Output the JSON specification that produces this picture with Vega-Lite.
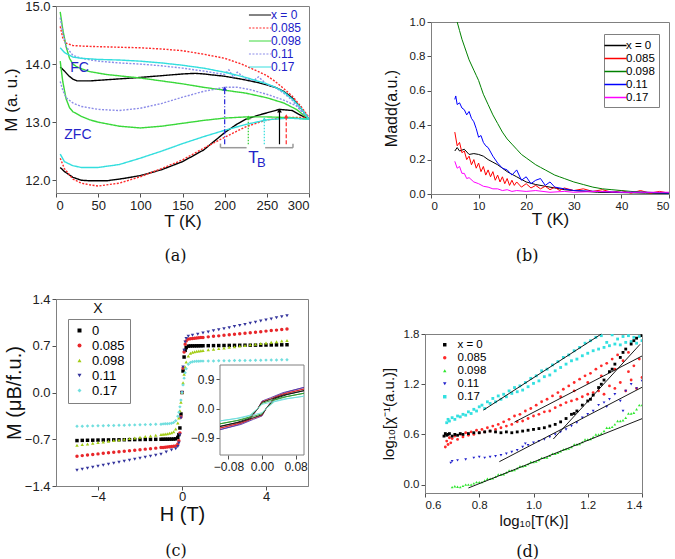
{
"$schema":"https://vega.github.io/schema/vega-lite/v6.json",
"background":"white",
"padding":{"left":2,"top":-1,"right":2,"bottom":0},
"spacing":27,
"resolve":{"scale":{"color":"independent","shape":"independent","strokeDash":"independent"},"legend":{"color":"independent","shape":"independent","strokeDash":"independent"}},
"config":{
 "view":{"stroke":"#808080","strokeWidth":1},
 "axis":{"grid":false,"domainColor":"#808080","tickColor":"#505050","tickSize":4,"labelColor":"#202020","titleColor":"#111111","labelFont":"Liberation Sans","titleFont":"Liberation Sans","titleFontWeight":"normal","labelPadding":2},
 "legend":{"labelFont":"Liberation Sans","titleFont":"Liberation Sans"},
 "title":{"font":"DejaVu Serif","fontSize":16,"fontWeight":"normal","color":"#111111","frame":"group"},
 "text":{"font":"Liberation Sans"}
},
"vconcat":[
{"hconcat":[
 {"width":253,"height":187,
  "title":{"text":"(a)","orient":"bottom","offset":19,"dx":-7},
  "resolve":{"scale":{"color":"independent","strokeDash":"independent"},"legend":{"color":"independent","strokeDash":"independent"}},
  "layer":[
   {"data":{"values":[
{"s":"x = 0","b":"F","t":5,"m":13.95},{"s":"x = 0","b":"F","t":10,"m":13.88},{"s":"x = 0","b":"F","t":15,"m":13.8},{"s":"x = 0","b":"F","t":20,"m":13.74},{"s":"x = 0","b":"F","t":25,"m":13.71},{"s":"x = 0","b":"F","t":40,"m":13.71},{"s":"x = 0","b":"F","t":60,"m":13.73},{"s":"x = 0","b":"F","t":80,"m":13.75},{"s":"x = 0","b":"F","t":100,"m":13.77},{"s":"x = 0","b":"F","t":125,"m":13.8},{"s":"x = 0","b":"F","t":150,"m":13.83},{"s":"x = 0","b":"F","t":165,"m":13.84},{"s":"x = 0","b":"F","t":175,"m":13.83},{"s":"x = 0","b":"F","t":200,"m":13.79},{"s":"x = 0","b":"F","t":220,"m":13.74},{"s":"x = 0","b":"F","t":240,"m":13.68},{"s":"x = 0","b":"F","t":260,"m":13.6},{"s":"x = 0","b":"F","t":270,"m":13.53},{"s":"x = 0","b":"F","t":280,"m":13.42},{"s":"x = 0","b":"F","t":290,"m":13.25},{"s":"x = 0","b":"F","t":300,"m":13.05},
{"s":"x = 0","b":"Z","t":5,"m":12.22},{"s":"x = 0","b":"Z","t":10,"m":12.15},{"s":"x = 0","b":"Z","t":20,"m":12.05},{"s":"x = 0","b":"Z","t":30,"m":12.0},{"s":"x = 0","b":"Z","t":40,"m":11.99},{"s":"x = 0","b":"Z","t":60,"m":11.99},{"s":"x = 0","b":"Z","t":80,"m":12.03},{"s":"x = 0","b":"Z","t":100,"m":12.08},{"s":"x = 0","b":"Z","t":125,"m":12.18},{"s":"x = 0","b":"Z","t":150,"m":12.32},{"s":"x = 0","b":"Z","t":175,"m":12.52},{"s":"x = 0","b":"Z","t":200,"m":12.82},{"s":"x = 0","b":"Z","t":215,"m":12.97},{"s":"x = 0","b":"Z","t":225,"m":13.05},{"s":"x = 0","b":"Z","t":240,"m":13.12},{"s":"x = 0","b":"Z","t":250,"m":13.16},{"s":"x = 0","b":"Z","t":265,"m":13.22},{"s":"x = 0","b":"Z","t":280,"m":13.2},{"s":"x = 0","b":"Z","t":290,"m":13.12},{"s":"x = 0","b":"Z","t":300,"m":13.05},
{"s":"0.085","b":"F","t":5,"m":14.65},{"s":"0.085","b":"F","t":8,"m":14.45},{"s":"0.085","b":"F","t":12,"m":14.36},{"s":"0.085","b":"F","t":20,"m":14.32},{"s":"0.085","b":"F","t":30,"m":14.31},{"s":"0.085","b":"F","t":50,"m":14.3},{"s":"0.085","b":"F","t":75,"m":14.29},{"s":"0.085","b":"F","t":100,"m":14.28},{"s":"0.085","b":"F","t":125,"m":14.26},{"s":"0.085","b":"F","t":150,"m":14.23},{"s":"0.085","b":"F","t":175,"m":14.17},{"s":"0.085","b":"F","t":200,"m":14.1},{"s":"0.085","b":"F","t":220,"m":14.0},{"s":"0.085","b":"F","t":240,"m":13.87},{"s":"0.085","b":"F","t":250,"m":13.8},{"s":"0.085","b":"F","t":260,"m":13.7},{"s":"0.085","b":"F","t":270,"m":13.58},{"s":"0.085","b":"F","t":280,"m":13.45},{"s":"0.085","b":"F","t":290,"m":13.28},{"s":"0.085","b":"F","t":300,"m":13.08},
{"s":"0.085","b":"Z","t":5,"m":12.38},{"s":"0.085","b":"Z","t":10,"m":12.2},{"s":"0.085","b":"Z","t":20,"m":12.02},{"s":"0.085","b":"Z","t":30,"m":11.95},{"s":"0.085","b":"Z","t":40,"m":11.92},{"s":"0.085","b":"Z","t":50,"m":11.9},{"s":"0.085","b":"Z","t":75,"m":11.95},{"s":"0.085","b":"Z","t":100,"m":12.06},{"s":"0.085","b":"Z","t":125,"m":12.2},{"s":"0.085","b":"Z","t":150,"m":12.35},{"s":"0.085","b":"Z","t":175,"m":12.55},{"s":"0.085","b":"Z","t":200,"m":12.74},{"s":"0.085","b":"Z","t":225,"m":12.92},{"s":"0.085","b":"Z","t":250,"m":13.04},{"s":"0.085","b":"Z","t":275,"m":13.08},{"s":"0.085","b":"Z","t":300,"m":13.08},
{"s":"0.098","b":"F","t":5,"m":14.9},{"s":"0.098","b":"F","t":8,"m":14.6},{"s":"0.098","b":"F","t":12,"m":14.3},{"s":"0.098","b":"F","t":16,"m":14.1},{"s":"0.098","b":"F","t":20,"m":14.0},{"s":"0.098","b":"F","t":25,"m":13.95},{"s":"0.098","b":"F","t":30,"m":13.92},{"s":"0.098","b":"F","t":40,"m":13.87},{"s":"0.098","b":"F","t":60,"m":13.82},{"s":"0.098","b":"F","t":80,"m":13.79},{"s":"0.098","b":"F","t":100,"m":13.76},{"s":"0.098","b":"F","t":125,"m":13.71},{"s":"0.098","b":"F","t":150,"m":13.66},{"s":"0.098","b":"F","t":175,"m":13.6},{"s":"0.098","b":"F","t":200,"m":13.55},{"s":"0.098","b":"F","t":225,"m":13.5},{"s":"0.098","b":"F","t":250,"m":13.42},{"s":"0.098","b":"F","t":270,"m":13.33},{"s":"0.098","b":"F","t":285,"m":13.22},{"s":"0.098","b":"F","t":300,"m":13.05},
{"s":"0.098","b":"Z","t":5,"m":14.05},{"s":"0.098","b":"Z","t":8,"m":13.7},{"s":"0.098","b":"Z","t":12,"m":13.4},{"s":"0.098","b":"Z","t":16,"m":13.25},{"s":"0.098","b":"Z","t":20,"m":13.18},{"s":"0.098","b":"Z","t":30,"m":13.1},{"s":"0.098","b":"Z","t":40,"m":13.04},{"s":"0.098","b":"Z","t":50,"m":13.0},{"s":"0.098","b":"Z","t":75,"m":12.93},{"s":"0.098","b":"Z","t":100,"m":12.9},{"s":"0.098","b":"Z","t":125,"m":12.93},{"s":"0.098","b":"Z","t":150,"m":12.98},{"s":"0.098","b":"Z","t":175,"m":13.03},{"s":"0.098","b":"Z","t":200,"m":13.07},{"s":"0.098","b":"Z","t":225,"m":13.09},{"s":"0.098","b":"Z","t":250,"m":13.09},{"s":"0.098","b":"Z","t":275,"m":13.08},{"s":"0.098","b":"Z","t":300,"m":13.05},
{"s":"0.11","b":"F","t":5,"m":14.8},{"s":"0.11","b":"F","t":8,"m":14.55},{"s":"0.11","b":"F","t":12,"m":14.3},{"s":"0.11","b":"F","t":20,"m":14.15},{"s":"0.11","b":"F","t":30,"m":14.1},{"s":"0.11","b":"F","t":50,"m":14.05},{"s":"0.11","b":"F","t":75,"m":14.02},{"s":"0.11","b":"F","t":100,"m":14.0},{"s":"0.11","b":"F","t":125,"m":13.97},{"s":"0.11","b":"F","t":150,"m":13.93},{"s":"0.11","b":"F","t":175,"m":13.88},{"s":"0.11","b":"F","t":200,"m":13.82},{"s":"0.11","b":"F","t":205,"m":13.9},{"s":"0.11","b":"F","t":210,"m":13.78},{"s":"0.11","b":"F","t":215,"m":13.86},{"s":"0.11","b":"F","t":225,"m":13.75},{"s":"0.11","b":"F","t":235,"m":13.72},{"s":"0.11","b":"F","t":240,"m":13.78},{"s":"0.11","b":"F","t":250,"m":13.65},{"s":"0.11","b":"F","t":260,"m":13.6},{"s":"0.11","b":"F","t":270,"m":13.5},{"s":"0.11","b":"F","t":280,"m":13.38},{"s":"0.11","b":"F","t":290,"m":13.2},{"s":"0.11","b":"F","t":300,"m":13.05},
{"s":"0.11","b":"Z","t":5,"m":13.7},{"s":"0.11","b":"Z","t":8,"m":13.55},{"s":"0.11","b":"Z","t":12,"m":13.42},{"s":"0.11","b":"Z","t":20,"m":13.33},{"s":"0.11","b":"Z","t":30,"m":13.27},{"s":"0.11","b":"Z","t":50,"m":13.22},{"s":"0.11","b":"Z","t":75,"m":13.2},{"s":"0.11","b":"Z","t":100,"m":13.24},{"s":"0.11","b":"Z","t":125,"m":13.32},{"s":"0.11","b":"Z","t":150,"m":13.43},{"s":"0.11","b":"Z","t":175,"m":13.53},{"s":"0.11","b":"Z","t":200,"m":13.6},{"s":"0.11","b":"Z","t":215,"m":13.6},{"s":"0.11","b":"Z","t":230,"m":13.56},{"s":"0.11","b":"Z","t":250,"m":13.48},{"s":"0.11","b":"Z","t":270,"m":13.38},{"s":"0.11","b":"Z","t":285,"m":13.28},{"s":"0.11","b":"Z","t":300,"m":13.08},
{"s":"0.17","b":"F","t":5,"m":14.28},{"s":"0.17","b":"F","t":10,"m":14.2},{"s":"0.17","b":"F","t":20,"m":14.12},{"s":"0.17","b":"F","t":30,"m":14.1},{"s":"0.17","b":"F","t":50,"m":14.08},{"s":"0.17","b":"F","t":75,"m":14.07},{"s":"0.17","b":"F","t":100,"m":14.05},{"s":"0.17","b":"F","t":125,"m":14.02},{"s":"0.17","b":"F","t":150,"m":13.98},{"s":"0.17","b":"F","t":175,"m":13.93},{"s":"0.17","b":"F","t":200,"m":13.86},{"s":"0.17","b":"F","t":225,"m":13.77},{"s":"0.17","b":"F","t":250,"m":13.66},{"s":"0.17","b":"F","t":260,"m":13.6},{"s":"0.17","b":"F","t":270,"m":13.52},{"s":"0.17","b":"F","t":280,"m":13.4},{"s":"0.17","b":"F","t":290,"m":13.25},{"s":"0.17","b":"F","t":300,"m":13.05},
{"s":"0.17","b":"Z","t":5,"m":12.45},{"s":"0.17","b":"Z","t":10,"m":12.32},{"s":"0.17","b":"Z","t":20,"m":12.25},{"s":"0.17","b":"Z","t":30,"m":12.22},{"s":"0.17","b":"Z","t":50,"m":12.22},{"s":"0.17","b":"Z","t":75,"m":12.27},{"s":"0.17","b":"Z","t":100,"m":12.38},{"s":"0.17","b":"Z","t":125,"m":12.5},{"s":"0.17","b":"Z","t":150,"m":12.63},{"s":"0.17","b":"Z","t":175,"m":12.75},{"s":"0.17","b":"Z","t":200,"m":12.86},{"s":"0.17","b":"Z","t":225,"m":12.96},{"s":"0.17","b":"Z","t":250,"m":13.04},{"s":"0.17","b":"Z","t":275,"m":13.07},{"s":"0.17","b":"Z","t":300,"m":13.05}
    ]},
    "mark":{"type":"line","strokeWidth":1.4},
    "encoding":{
     "x":{"field":"t","type":"quantitative","scale":{"domain":[0,300],"nice":false},"axis":{"values":[0,50,100,150,200,250,300],"title":"T (K)","labelFontSize":13,"titleFontSize":17,"titlePadding":1}},
     "y":{"field":"m","type":"quantitative","scale":{"domain":[11.78,15],"nice":false,"zero":false},"axis":{"values":[12,12.5,13,13.5,14,14.5,15],"format":".1f","title":"M (a. u.)","labelFontSize":13,"titleFontSize":17,"titlePadding":4}},
     "color":{"field":"s","type":"nominal","scale":{"domain":["x = 0","0.085","0.098","0.11","0.17"],"range":["#000000","#ff2a2a","#3ad83a","#8c8ce8","#33dede"]},"legend":{"title":null,"orient":"none","legendX":197,"legendY":2,"symbolType":"M-1.7,0H1.7","symbolSize":169,"symbolStrokeWidth":1,"labelColor":"#2020c8","labelFontSize":12,"rowPadding":0,"labelOffset":4,"padding":0}},
     "strokeDash":{"field":"s","type":"nominal","scale":{"domain":["x = 0","0.085","0.098","0.11","0.17"],"range":[[1,0],[2,1.5],[1,0],[2,1.5],[1,0]]},"legend":{"title":null,"orient":"none","legendX":197,"legendY":2,"symbolType":"M-1.7,0H1.7","symbolSize":169,"symbolStrokeWidth":1,"labelColor":"#2020c8","labelFontSize":12,"rowPadding":0,"labelOffset":4,"padding":0}},
     "detail":{"field":"b"}
    }},
   {"data":{"values":[{"s":"0.11","t":200,"m":12.62,"m2":13.58},{"s":"0.098","t":228,"m":12.62,"m2":13.08},{"s":"0.17","t":247,"m":12.62,"m2":13.05},{"s":"x = 0","t":265,"m":12.62,"m2":13.2},{"s":"0.085","t":273,"m":12.62,"m2":13.1}]},
    "layer":[
     {"mark":{"type":"rule","strokeWidth":1.2},
      "encoding":{"x":{"field":"t","type":"quantitative"},"y":{"field":"m","type":"quantitative"},"y2":{"field":"m2"},
       "color":{"field":"s","type":"nominal","scale":{"domain":["x = 0","0.085","0.098","0.11","0.17"],"range":["#000000","#ff2a2a","#2ecc2e","#2424d8","#33dede"]},"legend":null},
       "strokeDash":{"field":"s","type":"nominal","scale":{"domain":["x = 0","0.085","0.098","0.11","0.17"],"range":[[1,0],[4,2],[1.5,1.5],[5,2,1,2],[1.5,1.5]]},"legend":null}}},
     {"mark":{"type":"point","shape":"triangle-up","filled":true,"size":22,"opacity":1},
      "encoding":{"x":{"field":"t","type":"quantitative"},"y":{"field":"m2","type":"quantitative"},
       "color":{"field":"s","type":"nominal","scale":{"domain":["x = 0","0.085","0.098","0.11","0.17"],"range":["#000000","#ff2a2a","#2ecc2e","#2424d8","#33dede"]},"legend":null}}}
    ]},
   {"data":{"values":[{"t":195,"t2":226,"m":12.56,"m2":12.56},{"t":195,"t2":195,"m":12.56,"m2":12.63},{"t":248,"t2":281,"m":12.56,"m2":12.56},{"t":281,"t2":281,"m":12.56,"m2":12.63}]},
    "mark":{"type":"rule","color":"#9a9a9a","strokeWidth":1.5},
    "encoding":{"x":{"field":"t","type":"quantitative"},"x2":{"field":"t2"},"y":{"field":"m","type":"quantitative"},"y2":{"field":"m2"}}},
   {"data":{"values":[{"t":28,"m":13.94,"label":"FC"},{"t":26,"m":12.78,"label":"ZFC"}]},
    "mark":{"type":"text","fontSize":14,"color":"#2424c8"},
    "encoding":{"x":{"field":"t","type":"quantitative"},"y":{"field":"m","type":"quantitative"},"text":{"field":"label"}}},
   {"data":{"values":[{"t":234,"m":12.39,"label":"T"}]},
    "mark":{"type":"text","fontSize":17,"color":"#2424c8"},
    "encoding":{"x":{"field":"t","type":"quantitative"},"y":{"field":"m","type":"quantitative"},"text":{"field":"label"}}},
   {"data":{"values":[{"t":243.6,"m":12.3,"label":"B"}]},
    "mark":{"type":"text","fontSize":13,"color":"#2424c8"},
    "encoding":{"x":{"field":"t","type":"quantitative"},"y":{"field":"m","type":"quantitative"},"text":{"field":"label"}}}
  ]},
 {"vconcat":[
  {"width":238,"height":16,"data":{"values":[{"a":1}]},"mark":{"type":"point","opacity":0},"encoding":{},"view":{"stroke":null}},
  {"width":238,"height":172,
   "title":{"text":"(b)","orient":"bottom","offset":20,"dx":-23},
   "data":{"values":[
{"s":"x = 0","t":5,"m":0.25},{"s":"x = 0","t":5.5,"m":0.27},{"s":"x = 0","t":6,"m":0.25},{"s":"x = 0","t":7,"m":0.26},{"s":"x = 0","t":8,"m":0.23},{"s":"x = 0","t":9,"m":0.235},{"s":"x = 0","t":10,"m":0.23},{"s":"x = 0","t":11,"m":0.22},{"s":"x = 0","t":12,"m":0.2},{"s":"x = 0","t":13,"m":0.185},{"s":"x = 0","t":14,"m":0.17},{"s":"x = 0","t":15,"m":0.15},{"s":"x = 0","t":16,"m":0.13},{"s":"x = 0","t":17,"m":0.115},{"s":"x = 0","t":18,"m":0.1},{"s":"x = 0","t":19,"m":0.085},{"s":"x = 0","t":20,"m":0.07},{"s":"x = 0","t":22,"m":0.055},{"s":"x = 0","t":24,"m":0.045},{"s":"x = 0","t":26,"m":0.035},{"s":"x = 0","t":28,"m":0.025},{"s":"x = 0","t":30,"m":0.02},{"s":"x = 0","t":35,"m":0.01},{"s":"x = 0","t":40,"m":0.008},{"s":"x = 0","t":45,"m":0.005},{"s":"x = 0","t":50,"m":0.003},
{"s":"0.085","t":5,"m":0.36},{"s":"0.085","t":5.5,"m":0.28},{"s":"0.085","t":6,"m":0.3},{"s":"0.085","t":6.5,"m":0.24},{"s":"0.085","t":7,"m":0.25},{"s":"0.085","t":7.5,"m":0.2},{"s":"0.085","t":8,"m":0.22},{"s":"0.085","t":8.5,"m":0.17},{"s":"0.085","t":9,"m":0.2},{"s":"0.085","t":9.5,"m":0.15},{"s":"0.085","t":10,"m":0.18},{"s":"0.085","t":10.5,"m":0.13},{"s":"0.085","t":11,"m":0.16},{"s":"0.085","t":11.5,"m":0.11},{"s":"0.085","t":12,"m":0.14},{"s":"0.085","t":12.5,"m":0.1},{"s":"0.085","t":13,"m":0.13},{"s":"0.085","t":13.5,"m":0.08},{"s":"0.085","t":14,"m":0.11},{"s":"0.085","t":14.5,"m":0.07},{"s":"0.085","t":15,"m":0.1},{"s":"0.085","t":15.5,"m":0.06},{"s":"0.085","t":16,"m":0.09},{"s":"0.085","t":16.5,"m":0.05},{"s":"0.085","t":17,"m":0.08},{"s":"0.085","t":17.5,"m":0.05},{"s":"0.085","t":18,"m":0.07},{"s":"0.085","t":19,"m":0.04},{"s":"0.085","t":20,"m":0.06},{"s":"0.085","t":21,"m":0.035},{"s":"0.085","t":22,"m":0.05},{"s":"0.085","t":23,"m":0.03},{"s":"0.085","t":24,"m":0.045},{"s":"0.085","t":25,"m":0.025},{"s":"0.085","t":26,"m":0.04},{"s":"0.085","t":27,"m":0.02},{"s":"0.085","t":28,"m":0.035},{"s":"0.085","t":30,"m":0.02},{"s":"0.085","t":32,"m":0.03},{"s":"0.085","t":34,"m":0.015},{"s":"0.085","t":36,"m":0.025},{"s":"0.085","t":38,"m":0.01},{"s":"0.085","t":40,"m":0.02},{"s":"0.085","t":42,"m":0.005},{"s":"0.085","t":44,"m":0.02},{"s":"0.085","t":46,"m":0.005},{"s":"0.085","t":48,"m":0.015},{"s":"0.085","t":50,"m":0.005},
{"s":"0.098","t":5.5,"m":1.0},{"s":"0.098","t":6,"m":0.95},{"s":"0.098","t":6.5,"m":0.9},{"s":"0.098","t":7,"m":0.86},{"s":"0.098","t":7.5,"m":0.82},{"s":"0.098","t":8,"m":0.78},{"s":"0.098","t":8.5,"m":0.75},{"s":"0.098","t":9,"m":0.72},{"s":"0.098","t":9.5,"m":0.69},{"s":"0.098","t":10,"m":0.66},{"s":"0.098","t":10.5,"m":0.62},{"s":"0.098","t":11,"m":0.58},{"s":"0.098","t":12,"m":0.52},{"s":"0.098","t":13,"m":0.46},{"s":"0.098","t":14,"m":0.41},{"s":"0.098","t":15,"m":0.36},{"s":"0.098","t":16,"m":0.32},{"s":"0.098","t":17,"m":0.29},{"s":"0.098","t":18,"m":0.26},{"s":"0.098","t":19,"m":0.23},{"s":"0.098","t":20,"m":0.21},{"s":"0.098","t":21,"m":0.19},{"s":"0.098","t":22,"m":0.17},{"s":"0.098","t":23,"m":0.155},{"s":"0.098","t":24,"m":0.14},{"s":"0.098","t":25,"m":0.125},{"s":"0.098","t":26,"m":0.11},{"s":"0.098","t":27,"m":0.1},{"s":"0.098","t":28,"m":0.09},{"s":"0.098","t":29,"m":0.08},{"s":"0.098","t":30,"m":0.07},{"s":"0.098","t":32,"m":0.055},{"s":"0.098","t":34,"m":0.04},{"s":"0.098","t":36,"m":0.03},{"s":"0.098","t":38,"m":0.025},{"s":"0.098","t":40,"m":0.02},{"s":"0.098","t":42,"m":0.015},{"s":"0.098","t":45,"m":0.01},{"s":"0.098","t":48,"m":0.008},{"s":"0.098","t":50,"m":0.005},
{"s":"0.11","t":5,"m":0.55},{"s":"0.11","t":5.2,"m":0.57},{"s":"0.11","t":5.5,"m":0.52},{"s":"0.11","t":6,"m":0.53},{"s":"0.11","t":6.5,"m":0.5},{"s":"0.11","t":7,"m":0.49},{"s":"0.11","t":7.5,"m":0.46},{"s":"0.11","t":8,"m":0.48},{"s":"0.11","t":8.5,"m":0.44},{"s":"0.11","t":9,"m":0.42},{"s":"0.11","t":9.5,"m":0.38},{"s":"0.11","t":10,"m":0.33},{"s":"0.11","t":10.5,"m":0.34},{"s":"0.11","t":11,"m":0.3},{"s":"0.11","t":11.5,"m":0.28},{"s":"0.11","t":12,"m":0.27},{"s":"0.11","t":13,"m":0.22},{"s":"0.11","t":14,"m":0.18},{"s":"0.11","t":15,"m":0.15},{"s":"0.11","t":16,"m":0.14},{"s":"0.11","t":17,"m":0.11},{"s":"0.11","t":18,"m":0.14},{"s":"0.11","t":19,"m":0.08},{"s":"0.11","t":20,"m":0.1},{"s":"0.11","t":21,"m":0.06},{"s":"0.11","t":22,"m":0.08},{"s":"0.11","t":23,"m":0.09},{"s":"0.11","t":24,"m":0.05},{"s":"0.11","t":25,"m":0.07},{"s":"0.11","t":26,"m":0.04},{"s":"0.11","t":28,"m":0.03},{"s":"0.11","t":30,"m":0.02},{"s":"0.11","t":35,"m":0.015},{"s":"0.11","t":40,"m":0.01},{"s":"0.11","t":45,"m":0.01},{"s":"0.11","t":50,"m":0.005},
{"s":"0.17","t":5,"m":0.19},{"s":"0.17","t":5.5,"m":0.15},{"s":"0.17","t":6,"m":0.16},{"s":"0.17","t":6.5,"m":0.12},{"s":"0.17","t":7,"m":0.12},{"s":"0.17","t":7.5,"m":0.09},{"s":"0.17","t":8,"m":0.095},{"s":"0.17","t":9,"m":0.07},{"s":"0.17","t":10,"m":0.06},{"s":"0.17","t":11,"m":0.045},{"s":"0.17","t":12,"m":0.04},{"s":"0.17","t":13,"m":0.03},{"s":"0.17","t":14,"m":0.03},{"s":"0.17","t":15,"m":0.02},{"s":"0.17","t":16,"m":0.025},{"s":"0.17","t":17,"m":0.015},{"s":"0.17","t":18,"m":0.02},{"s":"0.17","t":20,"m":0.015},{"s":"0.17","t":22,"m":0.02},{"s":"0.17","t":25,"m":0.01},{"s":"0.17","t":28,"m":0.015},{"s":"0.17","t":30,"m":0.01},{"s":"0.17","t":35,"m":0.015},{"s":"0.17","t":40,"m":0.01},{"s":"0.17","t":45,"m":0.01},{"s":"0.17","t":50,"m":0.01}
   ]},
   "mark":{"type":"line","strokeWidth":1,"clip":true},
   "encoding":{
    "x":{"field":"t","type":"quantitative","scale":{"domain":[0,50],"nice":false},"axis":{"values":[0,10,20,30,40,50],"title":"T (K)","labelFontSize":11.5,"titleFontSize":17,"titlePadding":0}},
    "y":{"field":"m","type":"quantitative","scale":{"domain":[0,1],"nice":false},"axis":{"values":[0,0.2,0.4,0.6,0.8,1.0],"format":".1f","title":"Madd(a.u.)","labelFontSize":11.5,"titleFontSize":16,"titlePadding":10}},
    "color":{"field":"s","type":"nominal","scale":{"domain":["x = 0","0.085","0.098","0.11","0.17"],"range":["#000000","#ff0000","#008000","#0000ff","#ff00ff"]},"legend":{"title":null,"orient":"none","legendX":173,"legendY":28,"symbolType":"M-1.7,0H1.7","symbolSize":169,"symbolStrokeWidth":1.5,"labelFontSize":11.5,"strokeColor":"#808080","padding":4,"rowPadding":0,"labelOffset":3}}
   }}
 ],"spacing":0,"bounds":"flush"}
],"spacing":122,"bounds":"flush","resolve":{"scale":{"color":"independent"},"legend":{"color":"independent","strokeDash":"independent"}}},
{"hconcat":[
 {"width":252,"height":187,
  "title":{"text":"(c)","orient":"bottom","offset":19,"dx":-6},
  "resolve":{"scale":{"x":"independent","y":"independent","color":"independent","shape":"independent"},"axis":{"x":"independent","y":"independent"},"legend":{"color":"independent","shape":"independent"}},
  "layer":[
   {"layer":[
    {"data":{"values":[
{"s":"0","h":0,"m":0},{"s":"0","h":0.05,"m":0.322},{"s":"0","h":0.1,"m":0.531},{"s":"0","h":0.15,"m":0.631},{"s":"0","h":0.2,"m":0.672},{"s":"0","h":0.3,"m":0.694},{"s":"0","h":0.4,"m":0.697},{"s":"0","h":0.5,"m":0.698},{"s":"0","h":0.6,"m":0.698},{"s":"0","h":0.7,"m":0.699},{"s":"0","h":0.8,"m":0.699},{"s":"0","h":0.9,"m":0.7},{"s":"0","h":1,"m":0.7},{"s":"0","h":1.25,"m":0.701},{"s":"0","h":1.5,"m":0.702},{"s":"0","h":1.75,"m":0.703},{"s":"0","h":2,"m":0.704},{"s":"0","h":2.25,"m":0.705},{"s":"0","h":2.5,"m":0.706},{"s":"0","h":2.75,"m":0.707},{"s":"0","h":3,"m":0.708},{"s":"0","h":3.25,"m":0.708},{"s":"0","h":3.5,"m":0.709},{"s":"0","h":3.75,"m":0.71},{"s":"0","h":4,"m":0.711},{"s":"0","h":4.25,"m":0.712},{"s":"0","h":4.5,"m":0.713},{"s":"0","h":4.75,"m":0.714},{"s":"0","h":5,"m":0.715},
{"s":"0","h":-0.05,"m":-0.322},{"s":"0","h":-0.1,"m":-0.531},{"s":"0","h":-0.15,"m":-0.631},{"s":"0","h":-0.2,"m":-0.672},{"s":"0","h":-0.3,"m":-0.694},{"s":"0","h":-0.4,"m":-0.697},{"s":"0","h":-0.5,"m":-0.698},{"s":"0","h":-0.6,"m":-0.698},{"s":"0","h":-0.7,"m":-0.699},{"s":"0","h":-0.8,"m":-0.699},{"s":"0","h":-0.9,"m":-0.7},{"s":"0","h":-1,"m":-0.7},{"s":"0","h":-1.25,"m":-0.701},{"s":"0","h":-1.5,"m":-0.702},{"s":"0","h":-1.75,"m":-0.703},{"s":"0","h":-2,"m":-0.704},{"s":"0","h":-2.25,"m":-0.705},{"s":"0","h":-2.5,"m":-0.706},{"s":"0","h":-2.75,"m":-0.707},{"s":"0","h":-3,"m":-0.708},{"s":"0","h":-3.25,"m":-0.709},{"s":"0","h":-3.5,"m":-0.71},{"s":"0","h":-3.75,"m":-0.711},{"s":"0","h":-4,"m":-0.712},{"s":"0","h":-4.25,"m":-0.714},{"s":"0","h":-4.5,"m":-0.715},{"s":"0","h":-4.75,"m":-0.717},{"s":"0","h":-5,"m":-0.72},
{"s":"0.085","h":0,"m":0},{"s":"0.085","h":0.05,"m":0.367},{"s":"0.085","h":0.1,"m":0.607},{"s":"0.085","h":0.15,"m":0.722},{"s":"0.085","h":0.2,"m":0.771},{"s":"0.085","h":0.3,"m":0.799},{"s":"0.085","h":0.4,"m":0.805},{"s":"0.085","h":0.5,"m":0.809},{"s":"0.085","h":0.6,"m":0.813},{"s":"0.085","h":0.7,"m":0.816},{"s":"0.085","h":0.8,"m":0.819},{"s":"0.085","h":0.9,"m":0.822},{"s":"0.085","h":1,"m":0.825},{"s":"0.085","h":1.25,"m":0.833},{"s":"0.085","h":1.5,"m":0.841},{"s":"0.085","h":1.75,"m":0.848},{"s":"0.085","h":2,"m":0.856},{"s":"0.085","h":2.25,"m":0.864},{"s":"0.085","h":2.5,"m":0.872},{"s":"0.085","h":2.75,"m":0.88},{"s":"0.085","h":3,"m":0.888},{"s":"0.085","h":3.25,"m":0.895},{"s":"0.085","h":3.5,"m":0.903},{"s":"0.085","h":3.75,"m":0.911},{"s":"0.085","h":4,"m":0.919},{"s":"0.085","h":4.25,"m":0.927},{"s":"0.085","h":4.5,"m":0.934},{"s":"0.085","h":4.75,"m":0.942},{"s":"0.085","h":5,"m":0.95},
{"s":"0.085","h":-0.05,"m":-0.367},{"s":"0.085","h":-0.1,"m":-0.607},{"s":"0.085","h":-0.15,"m":-0.722},{"s":"0.085","h":-0.2,"m":-0.771},{"s":"0.085","h":-0.3,"m":-0.799},{"s":"0.085","h":-0.4,"m":-0.805},{"s":"0.085","h":-0.5,"m":-0.809},{"s":"0.085","h":-0.6,"m":-0.813},{"s":"0.085","h":-0.7,"m":-0.816},{"s":"0.085","h":-0.8,"m":-0.819},{"s":"0.085","h":-0.9,"m":-0.822},{"s":"0.085","h":-1,"m":-0.825},{"s":"0.085","h":-1.25,"m":-0.833},{"s":"0.085","h":-1.5,"m":-0.841},{"s":"0.085","h":-1.75,"m":-0.848},{"s":"0.085","h":-2,"m":-0.856},{"s":"0.085","h":-2.25,"m":-0.864},{"s":"0.085","h":-2.5,"m":-0.872},{"s":"0.085","h":-2.75,"m":-0.88},{"s":"0.085","h":-3,"m":-0.888},{"s":"0.085","h":-3.25,"m":-0.895},{"s":"0.085","h":-3.5,"m":-0.903},{"s":"0.085","h":-3.75,"m":-0.911},{"s":"0.085","h":-4,"m":-0.919},{"s":"0.085","h":-4.25,"m":-0.927},{"s":"0.085","h":-4.5,"m":-0.936},{"s":"0.085","h":-4.75,"m":-0.945},{"s":"0.085","h":-5,"m":-0.955},
{"s":"0.098","h":0,"m":0},{"s":"0.098","h":0.05,"m":0.146},{"s":"0.098","h":0.1,"m":0.275},{"s":"0.098","h":0.15,"m":0.38},{"s":"0.098","h":0.2,"m":0.457},{"s":"0.098","h":0.3,"m":0.547},{"s":"0.098","h":0.4,"m":0.586},{"s":"0.098","h":0.5,"m":0.603},{"s":"0.098","h":0.6,"m":0.612},{"s":"0.098","h":0.7,"m":0.618},{"s":"0.098","h":0.8,"m":0.623},{"s":"0.098","h":0.9,"m":0.626},{"s":"0.098","h":1,"m":0.63},{"s":"0.098","h":1.25,"m":0.639},{"s":"0.098","h":1.5,"m":0.649},{"s":"0.098","h":1.75,"m":0.658},{"s":"0.098","h":2,"m":0.668},{"s":"0.098","h":2.25,"m":0.677},{"s":"0.098","h":2.5,"m":0.686},{"s":"0.098","h":2.75,"m":0.696},{"s":"0.098","h":3,"m":0.705},{"s":"0.098","h":3.25,"m":0.714},{"s":"0.098","h":3.5,"m":0.724},{"s":"0.098","h":3.75,"m":0.733},{"s":"0.098","h":4,"m":0.743},{"s":"0.098","h":4.25,"m":0.752},{"s":"0.098","h":4.5,"m":0.761},{"s":"0.098","h":4.75,"m":0.771},{"s":"0.098","h":5,"m":0.78},
{"s":"0.098","h":-0.05,"m":-0.146},{"s":"0.098","h":-0.1,"m":-0.275},{"s":"0.098","h":-0.15,"m":-0.38},{"s":"0.098","h":-0.2,"m":-0.457},{"s":"0.098","h":-0.3,"m":-0.547},{"s":"0.098","h":-0.4,"m":-0.586},{"s":"0.098","h":-0.5,"m":-0.603},{"s":"0.098","h":-0.6,"m":-0.612},{"s":"0.098","h":-0.7,"m":-0.618},{"s":"0.098","h":-0.8,"m":-0.623},{"s":"0.098","h":-0.9,"m":-0.626},{"s":"0.098","h":-1,"m":-0.63},{"s":"0.098","h":-1.25,"m":-0.64},{"s":"0.098","h":-1.5,"m":-0.65},{"s":"0.098","h":-1.75,"m":-0.66},{"s":"0.098","h":-2,"m":-0.67},{"s":"0.098","h":-2.25,"m":-0.68},{"s":"0.098","h":-2.5,"m":-0.69},{"s":"0.098","h":-2.75,"m":-0.7},{"s":"0.098","h":-3,"m":-0.71},{"s":"0.098","h":-3.25,"m":-0.72},{"s":"0.098","h":-3.5,"m":-0.73},{"s":"0.098","h":-3.75,"m":-0.74},{"s":"0.098","h":-4,"m":-0.75},{"s":"0.098","h":-4.25,"m":-0.76},{"s":"0.098","h":-4.5,"m":-0.77},{"s":"0.098","h":-4.75,"m":-0.78},{"s":"0.098","h":-5,"m":-0.79},
{"s":"0.11","h":0,"m":0},{"s":"0.11","h":0.05,"m":0.383},{"s":"0.11","h":0.1,"m":0.634},{"s":"0.11","h":0.15,"m":0.756},{"s":"0.11","h":0.2,"m":0.808},{"s":"0.11","h":0.3,"m":0.841},{"s":"0.11","h":0.5,"m":0.858},{"s":"0.11","h":0.75,"m":0.874},{"s":"0.11","h":1,"m":0.89},{"s":"0.11","h":1.25,"m":0.906},{"s":"0.11","h":1.5,"m":0.923},{"s":"0.11","h":1.75,"m":0.939},{"s":"0.11","h":2,"m":0.955},{"s":"0.11","h":2.25,"m":0.971},{"s":"0.11","h":2.5,"m":0.988},{"s":"0.11","h":2.75,"m":1.004},{"s":"0.11","h":3,"m":1.02},{"s":"0.11","h":3.25,"m":1.036},{"s":"0.11","h":3.5,"m":1.053},{"s":"0.11","h":3.75,"m":1.069},{"s":"0.11","h":4,"m":1.085},{"s":"0.11","h":4.25,"m":1.101},{"s":"0.11","h":4.5,"m":1.118},{"s":"0.11","h":4.75,"m":1.134},{"s":"0.11","h":5,"m":1.15},
{"s":"0.11","h":-0.05,"m":-0.383},{"s":"0.11","h":-0.1,"m":-0.634},{"s":"0.11","h":-0.15,"m":-0.756},{"s":"0.11","h":-0.2,"m":-0.808},{"s":"0.11","h":-0.3,"m":-0.841},{"s":"0.11","h":-0.5,"m":-0.86},{"s":"0.11","h":-0.75,"m":-0.89},{"s":"0.11","h":-1,"m":-0.925},{"s":"0.11","h":-1.25,"m":-0.94},{"s":"0.11","h":-1.5,"m":-0.955},{"s":"0.11","h":-1.75,"m":-0.97},{"s":"0.11","h":-2,"m":-0.985},{"s":"0.11","h":-2.25,"m":-1.0},{"s":"0.11","h":-2.5,"m":-1.015},{"s":"0.11","h":-2.75,"m":-1.03},{"s":"0.11","h":-3,"m":-1.045},{"s":"0.11","h":-3.25,"m":-1.06},{"s":"0.11","h":-3.5,"m":-1.075},{"s":"0.11","h":-3.75,"m":-1.09},{"s":"0.11","h":-4,"m":-1.105},{"s":"0.11","h":-4.25,"m":-1.12},{"s":"0.11","h":-4.5,"m":-1.135},{"s":"0.11","h":-4.75,"m":-1.15},{"s":"0.11","h":-5,"m":-1.165},
{"s":"0.17","h":0,"m":0},{"s":"0.17","h":0.05,"m":0.114},{"s":"0.17","h":0.1,"m":0.215},{"s":"0.17","h":0.15,"m":0.296},{"s":"0.17","h":0.2,"m":0.355},{"s":"0.17","h":0.3,"m":0.423},{"s":"0.17","h":0.4,"m":0.45},{"s":"0.17","h":0.5,"m":0.462},{"s":"0.17","h":0.6,"m":0.466},{"s":"0.17","h":0.7,"m":0.468},{"s":"0.17","h":0.8,"m":0.469},{"s":"0.17","h":0.9,"m":0.47},{"s":"0.17","h":1,"m":0.47},{"s":"0.17","h":1.25,"m":0.471},{"s":"0.17","h":1.5,"m":0.473},{"s":"0.17","h":1.75,"m":0.474},{"s":"0.17","h":2,"m":0.475},{"s":"0.17","h":2.25,"m":0.476},{"s":"0.17","h":2.5,"m":0.478},{"s":"0.17","h":2.75,"m":0.479},{"s":"0.17","h":3,"m":0.48},{"s":"0.17","h":3.25,"m":0.481},{"s":"0.17","h":3.5,"m":0.483},{"s":"0.17","h":3.75,"m":0.484},{"s":"0.17","h":4,"m":0.485},{"s":"0.17","h":4.25,"m":0.486},{"s":"0.17","h":4.5,"m":0.488},{"s":"0.17","h":4.75,"m":0.489},{"s":"0.17","h":5,"m":0.49},
{"s":"0.17","h":-0.05,"m":-0.114},{"s":"0.17","h":-0.1,"m":-0.215},{"s":"0.17","h":-0.15,"m":-0.296},{"s":"0.17","h":-0.2,"m":-0.355},{"s":"0.17","h":-0.3,"m":-0.423},{"s":"0.17","h":-0.4,"m":-0.45},{"s":"0.17","h":-0.5,"m":-0.462},{"s":"0.17","h":-0.6,"m":-0.466},{"s":"0.17","h":-0.7,"m":-0.468},{"s":"0.17","h":-0.8,"m":-0.469},{"s":"0.17","h":-0.9,"m":-0.47},{"s":"0.17","h":-1,"m":-0.475},{"s":"0.17","h":-1.25,"m":-0.477},{"s":"0.17","h":-1.5,"m":-0.479},{"s":"0.17","h":-1.75,"m":-0.481},{"s":"0.17","h":-2,"m":-0.483},{"s":"0.17","h":-2.25,"m":-0.485},{"s":"0.17","h":-2.5,"m":-0.487},{"s":"0.17","h":-2.75,"m":-0.489},{"s":"0.17","h":-3,"m":-0.491},{"s":"0.17","h":-3.25,"m":-0.493},{"s":"0.17","h":-3.5,"m":-0.495},{"s":"0.17","h":-3.75,"m":-0.497},{"s":"0.17","h":-4,"m":-0.499},{"s":"0.17","h":-4.25,"m":-0.5},{"s":"0.17","h":-4.5,"m":-0.502},{"s":"0.17","h":-4.75,"m":-0.504},{"s":"0.17","h":-5,"m":-0.505}
    ]},
     "mark":{"type":"point","filled":true,"size":12,"opacity":1},
     "encoding":{
      "x":{"field":"h","type":"quantitative","scale":{"domain":[-6,6],"nice":false},"axis":{"values":[-4,0,4],"title":"H (T)","labelFontSize":13,"titleFontSize":20,"titlePadding":1,"labelPadding":0}},
      "y":{"field":"m","type":"quantitative","scale":{"domain":[-1.4,1.4],"nice":false},"axis":{"values":[-1.4,-0.7,0,0.7,1.4],"format":".1f","title":"M (μB/f.u.)","labelFontSize":13,"titleFontSize":20,"titlePadding":0}},
      "color":{"field":"s","type":"nominal","scale":{"domain":["0","0.085","0.098","0.11","0.17"],"range":["#000000","#e8262a","#a2cc14","#34349c","#70dede"]},"legend":{"title":null,"orient":"none","legendX":12,"legendY":20,"symbolSize":16,"labelFontSize":13,"strokeColor":"#808080","padding":5,"rowPadding":1,"labelOffset":6}},
      "shape":{"field":"s","type":"nominal","scale":{"domain":["0","0.085","0.098","0.11","0.17"],"range":["square","circle","triangle-up","triangle-down","diamond"]},"legend":{"title":null,"orient":"none","legendX":12,"legendY":20,"symbolSize":16,"labelFontSize":13,"strokeColor":"#808080","padding":5,"rowPadding":1,"labelOffset":6}}
     }},
    {"data":{"values":[{"h":-4,"m":1.25,"label":"X"}]},
     "mark":{"type":"text","fontSize":14,"color":"#111111"},
     "encoding":{"x":{"field":"h","type":"quantitative"},"y":{"field":"m","type":"quantitative"},"text":{"field":"label"}}}
   ]},
   {"layer":[
    {"data":{"values":[{"h":-0.1,"h2":0.1,"m":-1.43,"m2":1.34}]},
     "mark":{"type":"rect","fill":"white","stroke":"#808080","strokeWidth":1},
     "encoding":{
      "x":{"field":"h","type":"quantitative","scale":{"domain":[-0.1,0.1],"range":[164,248],"nice":false,"zero":false},"axis":{"orient":"bottom","offset":-31,"values":[-0.08,0,0.08],"format":".2f","title":null,"labelFontSize":12,"domain":false}},
      "x2":{"field":"h2"},
      "y":{"field":"m","type":"quantitative","scale":{"domain":[-1.43,1.34],"range":[156,66],"nice":false,"zero":false},"axis":{"orient":"left","offset":-164,"values":[-0.9,0,0.9],"format":".1f","title":null,"labelFontSize":12,"domain":false}},
      "y2":{"field":"m2"}}},
    {"data":{"values":[
{"s":"0.11","o":0,"h":0.1,"m":0.65},{"s":"0.11","o":1,"h":0.05,"m":0.49},{"s":"0.11","o":2,"h":0.02,"m":0.33},{"s":"0.11","o":3,"h":0,"m":0.23},{"s":"0.11","o":4,"h":-0.01,"m":0},{"s":"0.11","o":5,"h":-0.03,"m":-0.36},{"s":"0.11","o":6,"h":-0.06,"m":-0.51},{"s":"0.11","o":7,"h":-0.1,"m":-0.65},{"s":"0.11","o":8,"h":-0.1,"m":-0.65},{"s":"0.11","o":9,"h":-0.05,"m":-0.49},{"s":"0.11","o":10,"h":-0.02,"m":-0.33},{"s":"0.11","o":11,"h":0,"m":-0.23},{"s":"0.11","o":12,"h":0.01,"m":0},{"s":"0.11","o":13,"h":0.03,"m":0.36},{"s":"0.11","o":14,"h":0.06,"m":0.51},{"s":"0.11","o":15,"h":0.1,"m":0.65},
{"s":"0.085","o":0,"h":0.1,"m":0.6},{"s":"0.085","o":1,"h":0.05,"m":0.45},{"s":"0.085","o":2,"h":0.02,"m":0.3},{"s":"0.085","o":3,"h":0,"m":0.21},{"s":"0.085","o":4,"h":-0.01,"m":0},{"s":"0.085","o":5,"h":-0.03,"m":-0.33},{"s":"0.085","o":6,"h":-0.06,"m":-0.47},{"s":"0.085","o":7,"h":-0.1,"m":-0.6},{"s":"0.085","o":8,"h":-0.1,"m":-0.6},{"s":"0.085","o":9,"h":-0.05,"m":-0.45},{"s":"0.085","o":10,"h":-0.02,"m":-0.3},{"s":"0.085","o":11,"h":0,"m":-0.21},{"s":"0.085","o":12,"h":0.01,"m":0},{"s":"0.085","o":13,"h":0.03,"m":0.33},{"s":"0.085","o":14,"h":0.06,"m":0.47},{"s":"0.085","o":15,"h":0.1,"m":0.6},
{"s":"0","o":0,"h":0.1,"m":0.55},{"s":"0","o":1,"h":0.05,"m":0.41},{"s":"0","o":2,"h":0.02,"m":0.28},{"s":"0","o":3,"h":0,"m":0.19},{"s":"0","o":4,"h":-0.01,"m":0},{"s":"0","o":5,"h":-0.03,"m":-0.3},{"s":"0","o":6,"h":-0.06,"m":-0.43},{"s":"0","o":7,"h":-0.1,"m":-0.55},{"s":"0","o":8,"h":-0.1,"m":-0.55},{"s":"0","o":9,"h":-0.05,"m":-0.41},{"s":"0","o":10,"h":-0.02,"m":-0.28},{"s":"0","o":11,"h":0,"m":-0.19},{"s":"0","o":12,"h":0.01,"m":0},{"s":"0","o":13,"h":0.03,"m":0.3},{"s":"0","o":14,"h":0.06,"m":0.43},{"s":"0","o":15,"h":0.1,"m":0.55},
{"s":"0.098","o":0,"h":0.1,"m":0.47},{"s":"0.098","o":1,"h":0.05,"m":0.35},{"s":"0.098","o":2,"h":0.02,"m":0.24},{"s":"0.098","o":3,"h":0,"m":0.16},{"s":"0.098","o":4,"h":-0.01,"m":0},{"s":"0.098","o":5,"h":-0.03,"m":-0.26},{"s":"0.098","o":6,"h":-0.06,"m":-0.37},{"s":"0.098","o":7,"h":-0.1,"m":-0.47},{"s":"0.098","o":8,"h":-0.1,"m":-0.47},{"s":"0.098","o":9,"h":-0.05,"m":-0.35},{"s":"0.098","o":10,"h":-0.02,"m":-0.24},{"s":"0.098","o":11,"h":0,"m":-0.16},{"s":"0.098","o":12,"h":0.01,"m":0},{"s":"0.098","o":13,"h":0.03,"m":0.26},{"s":"0.098","o":14,"h":0.06,"m":0.37},{"s":"0.098","o":15,"h":0.1,"m":0.47},
{"s":"0.17","o":0,"h":0.1,"m":0.38},{"s":"0.17","o":1,"h":0.05,"m":0.29},{"s":"0.17","o":2,"h":0.02,"m":0.19},{"s":"0.17","o":3,"h":0,"m":0.13},{"s":"0.17","o":4,"h":-0.01,"m":0},{"s":"0.17","o":5,"h":-0.03,"m":-0.21},{"s":"0.17","o":6,"h":-0.06,"m":-0.3},{"s":"0.17","o":7,"h":-0.1,"m":-0.38},{"s":"0.17","o":8,"h":-0.1,"m":-0.38},{"s":"0.17","o":9,"h":-0.05,"m":-0.29},{"s":"0.17","o":10,"h":-0.02,"m":-0.19},{"s":"0.17","o":11,"h":0,"m":-0.13},{"s":"0.17","o":12,"h":0.01,"m":0},{"s":"0.17","o":13,"h":0.03,"m":0.21},{"s":"0.17","o":14,"h":0.06,"m":0.3},{"s":"0.17","o":15,"h":0.1,"m":0.38}
    ]},
     "mark":{"type":"line","strokeWidth":0.9},
     "encoding":{"x":{"field":"h","type":"quantitative"},"y":{"field":"m","type":"quantitative"},"order":{"field":"o","type":"quantitative"},
      "color":{"field":"s","type":"nominal","scale":{"domain":["0","0.085","0.098","0.11","0.17"],"range":["#111111","#d8262a","#2e9a2e","#5a3aa8","#70dede"]},"legend":null}}}
   ]}
  ]},
 {"vconcat":[
  {"width":217,"height":35,"data":{"values":[{"a":1}]},"mark":{"type":"point","opacity":0},"encoding":{},"view":{"stroke":null}},
  {"width":217,"height":159,
   "title":{"text":"(d)","orient":"bottom","offset":15,"dx":-6},
   "layer":[
    {"data":{"values":[
{"s":"0.17","lx":0.68,"ly":0.74},{"s":"0.17","lx":0.685,"ly":0.78},{"s":"0.17","lx":0.69,"ly":0.76},{"s":"0.17","lx":0.7,"ly":0.8},{"s":"0.17","lx":0.71,"ly":0.78},{"s":"0.17","lx":0.72,"ly":0.82},{"s":"0.17","lx":0.73,"ly":0.81},{"s":"0.17","lx":0.74,"ly":0.84},{"s":"0.17","lx":0.75,"ly":0.83},{"s":"0.17","lx":0.76,"ly":0.87},{"s":"0.17","lx":0.77,"ly":0.85},{"s":"0.17","lx":0.78,"ly":0.9},{"s":"0.17","lx":0.79,"ly":0.88},{"s":"0.17","lx":0.8,"ly":0.93},{"s":"0.17","lx":0.81,"ly":0.95},{"s":"0.17","lx":0.82,"ly":0.91},{"s":"0.17","lx":0.83,"ly":0.99},{"s":"0.17","lx":0.84,"ly":0.97},{"s":"0.17","lx":0.85,"ly":1.03},{"s":"0.17","lx":0.86,"ly":0.99},{"s":"0.17","lx":0.87,"ly":1.06},{"s":"0.17","lx":0.88,"ly":1.02},{"s":"0.17","lx":0.89,"ly":1.08},{"s":"0.17","lx":0.9,"ly":1.05},{"s":"0.17","lx":0.91,"ly":1.12},{"s":"0.17","lx":0.92,"ly":1.09},{"s":"0.17","lx":0.93,"ly":1.16},{"s":"0.17","lx":0.94,"ly":1.11},{"s":"0.17","lx":0.95,"ly":1.18},{"s":"0.17","lx":0.96,"ly":1.13},{"s":"0.17","lx":0.97,"ly":1.22},{"s":"0.17","lx":0.98,"ly":1.17},{"s":"0.17","lx":0.99,"ly":1.27},{"s":"0.17","lx":1.0,"ly":1.21},{"s":"0.17","lx":1.01,"ly":1.3},{"s":"0.17","lx":1.02,"ly":1.24},{"s":"0.17","lx":1.03,"ly":1.36},{"s":"0.17","lx":1.04,"ly":1.29},{"s":"0.17","lx":1.05,"ly":1.38},{"s":"0.17","lx":1.06,"ly":1.31},{"s":"0.17","lx":1.07,"ly":1.43},{"s":"0.17","lx":1.08,"ly":1.36},{"s":"0.17","lx":1.09,"ly":1.47},{"s":"0.17","lx":1.1,"ly":1.4},{"s":"0.17","lx":1.11,"ly":1.52},{"s":"0.17","lx":1.12,"ly":1.44},{"s":"0.17","lx":1.13,"ly":1.55},{"s":"0.17","lx":1.14,"ly":1.48},{"s":"0.17","lx":1.15,"ly":1.6},{"s":"0.17","lx":1.16,"ly":1.5},{"s":"0.17","lx":1.17,"ly":1.64},{"s":"0.17","lx":1.18,"ly":1.54},{"s":"0.17","lx":1.19,"ly":1.69},{"s":"0.17","lx":1.2,"ly":1.57},{"s":"0.17","lx":1.21,"ly":1.72},{"s":"0.17","lx":1.22,"ly":1.6},{"s":"0.17","lx":1.23,"ly":1.76},{"s":"0.17","lx":1.24,"ly":1.62},{"s":"0.17","lx":1.25,"ly":1.78},{"s":"0.17","lx":1.26,"ly":1.64},{"s":"0.17","lx":1.27,"ly":1.7},{"s":"0.17","lx":1.28,"ly":1.66},{"s":"0.17","lx":1.29,"ly":1.79},{"s":"0.17","lx":1.3,"ly":1.68},{"s":"0.17","lx":1.31,"ly":1.74},{"s":"0.17","lx":1.32,"ly":1.67},{"s":"0.17","lx":1.33,"ly":1.77},{"s":"0.17","lx":1.34,"ly":1.7},{"s":"0.17","lx":1.35,"ly":1.78},{"s":"0.17","lx":1.36,"ly":1.71},{"s":"0.17","lx":1.37,"ly":1.76},{"s":"0.17","lx":1.38,"ly":1.69},{"s":"0.17","lx":1.39,"ly":1.77},{"s":"0.17","lx":1.4,"ly":1.72},
{"s":"0.085","lx":0.675,"ly":0.45},{"s":"0.085","lx":0.68,"ly":0.52},{"s":"0.085","lx":0.685,"ly":0.48},{"s":"0.085","lx":0.69,"ly":0.56},{"s":"0.085","lx":0.695,"ly":0.5},{"s":"0.085","lx":0.7,"ly":0.55},{"s":"0.085","lx":0.71,"ly":0.58},{"s":"0.085","lx":0.72,"ly":0.54},{"s":"0.085","lx":0.73,"ly":0.6},{"s":"0.085","lx":0.74,"ly":0.57},{"s":"0.085","lx":0.75,"ly":0.62},{"s":"0.085","lx":0.76,"ly":0.59},{"s":"0.085","lx":0.77,"ly":0.63},{"s":"0.085","lx":0.78,"ly":0.6},{"s":"0.085","lx":0.79,"ly":0.65},{"s":"0.085","lx":0.8,"ly":0.62},{"s":"0.085","lx":0.81,"ly":0.66},{"s":"0.085","lx":0.82,"ly":0.63},{"s":"0.085","lx":0.83,"ly":0.68},{"s":"0.085","lx":0.84,"ly":0.64},{"s":"0.085","lx":0.85,"ly":0.7},{"s":"0.085","lx":0.86,"ly":0.66},{"s":"0.085","lx":0.87,"ly":0.72},{"s":"0.085","lx":0.88,"ly":0.68},{"s":"0.085","lx":0.89,"ly":0.75},{"s":"0.085","lx":0.9,"ly":0.7},{"s":"0.085","lx":0.91,"ly":0.78},{"s":"0.085","lx":0.92,"ly":0.72},{"s":"0.085","lx":0.93,"ly":0.82},{"s":"0.085","lx":0.94,"ly":0.75},{"s":"0.085","lx":0.95,"ly":0.84},{"s":"0.085","lx":0.96,"ly":0.76},{"s":"0.085","lx":0.97,"ly":0.88},{"s":"0.085","lx":0.98,"ly":0.79},{"s":"0.085","lx":0.99,"ly":0.91},{"s":"0.085","lx":1.0,"ly":0.82},{"s":"0.085","lx":1.01,"ly":0.95},{"s":"0.085","lx":1.02,"ly":0.84},{"s":"0.085","lx":1.03,"ly":0.99},{"s":"0.085","lx":1.04,"ly":0.87},{"s":"0.085","lx":1.05,"ly":1.02},{"s":"0.085","lx":1.06,"ly":0.88},{"s":"0.085","lx":1.07,"ly":1.06},{"s":"0.085","lx":1.08,"ly":0.92},{"s":"0.085","lx":1.09,"ly":1.1},{"s":"0.085","lx":1.1,"ly":0.95},{"s":"0.085","lx":1.11,"ly":1.14},{"s":"0.085","lx":1.12,"ly":0.98},{"s":"0.085","lx":1.13,"ly":1.18},{"s":"0.085","lx":1.14,"ly":1.0},{"s":"0.085","lx":1.15,"ly":1.22},{"s":"0.085","lx":1.16,"ly":1.02},{"s":"0.085","lx":1.17,"ly":1.26},{"s":"0.085","lx":1.18,"ly":1.05},{"s":"0.085","lx":1.19,"ly":1.3},{"s":"0.085","lx":1.2,"ly":1.08},{"s":"0.085","lx":1.21,"ly":1.33},{"s":"0.085","lx":1.22,"ly":1.1},{"s":"0.085","lx":1.23,"ly":1.38},{"s":"0.085","lx":1.24,"ly":1.12},{"s":"0.085","lx":1.25,"ly":1.42},{"s":"0.085","lx":1.26,"ly":1.08},{"s":"0.085","lx":1.27,"ly":1.45},{"s":"0.085","lx":1.28,"ly":1.18},{"s":"0.085","lx":1.29,"ly":1.5},{"s":"0.085","lx":1.3,"ly":1.15},{"s":"0.085","lx":1.31,"ly":1.55},{"s":"0.085","lx":1.32,"ly":1.22},{"s":"0.085","lx":1.33,"ly":1.48},{"s":"0.085","lx":1.34,"ly":1.12},{"s":"0.085","lx":1.35,"ly":1.58},{"s":"0.085","lx":1.36,"ly":1.25},{"s":"0.085","lx":1.37,"ly":1.42},{"s":"0.085","lx":1.38,"ly":1.15},{"s":"0.085","lx":1.39,"ly":1.5},{"s":"0.085","lx":1.4,"ly":1.28},{"s":"0.085","lx":1.25,"ly":1.3},{"s":"0.085","lx":1.3,"ly":1.38},{"s":"0.085","lx":1.35,"ly":1.35},{"s":"0.085","lx":1.2,"ly":1.22},{"s":"0.085","lx":1.15,"ly":1.12},{"s":"0.085","lx":1.1,"ly":1.05},
{"s":"x = 0","lx":0.67,"ly":0.58},{"s":"x = 0","lx":0.675,"ly":0.61},{"s":"x = 0","lx":0.68,"ly":0.59},{"s":"x = 0","lx":0.685,"ly":0.6},{"s":"x = 0","lx":0.69,"ly":0.61},{"s":"x = 0","lx":0.7,"ly":0.58},{"s":"x = 0","lx":0.71,"ly":0.6},{"s":"x = 0","lx":0.72,"ly":0.59},{"s":"x = 0","lx":0.73,"ly":0.61},{"s":"x = 0","lx":0.74,"ly":0.6},{"s":"x = 0","lx":0.76,"ly":0.61},{"s":"x = 0","lx":0.78,"ly":0.62},{"s":"x = 0","lx":0.8,"ly":0.62},{"s":"x = 0","lx":0.82,"ly":0.63},{"s":"x = 0","lx":0.84,"ly":0.64},{"s":"x = 0","lx":0.86,"ly":0.63},{"s":"x = 0","lx":0.88,"ly":0.62},{"s":"x = 0","lx":0.9,"ly":0.63},{"s":"x = 0","lx":0.92,"ly":0.62},{"s":"x = 0","lx":0.94,"ly":0.63},{"s":"x = 0","lx":0.96,"ly":0.64},{"s":"x = 0","lx":0.98,"ly":0.65},{"s":"x = 0","lx":1.0,"ly":0.66},{"s":"x = 0","lx":1.02,"ly":0.67},{"s":"x = 0","lx":1.04,"ly":0.68},{"s":"x = 0","lx":1.06,"ly":0.7},{"s":"x = 0","lx":1.08,"ly":0.72},{"s":"x = 0","lx":1.1,"ly":0.75},{"s":"x = 0","lx":1.12,"ly":0.79},{"s":"x = 0","lx":1.14,"ly":0.84},{"s":"x = 0","lx":1.16,"ly":0.88},{"s":"x = 0","lx":1.18,"ly":0.95},{"s":"x = 0","lx":1.2,"ly":1.0},{"s":"x = 0","lx":1.22,"ly":1.07},{"s":"x = 0","lx":1.24,"ly":1.16},{"s":"x = 0","lx":1.26,"ly":1.25},{"s":"x = 0","lx":1.28,"ly":1.35},{"s":"x = 0","lx":1.3,"ly":1.44},{"s":"x = 0","lx":1.32,"ly":1.52},{"s":"x = 0","lx":1.34,"ly":1.62},{"s":"x = 0","lx":1.36,"ly":1.68},{"s":"x = 0","lx":1.38,"ly":1.75},{"s":"x = 0","lx":1.4,"ly":1.78},{"s":"x = 0","lx":1.25,"ly":1.2},{"s":"x = 0","lx":1.29,"ly":1.38},{"s":"x = 0","lx":1.33,"ly":1.58},{"s":"x = 0","lx":1.37,"ly":1.72},{"s":"x = 0","lx":1.21,"ly":1.02},{"s":"x = 0","lx":1.15,"ly":0.85},
{"s":"0.11","lx":0.695,"ly":0.26},{"s":"0.11","lx":0.7,"ly":0.28},{"s":"0.11","lx":0.72,"ly":0.29},{"s":"0.11","lx":0.75,"ly":0.3},{"s":"0.11","lx":0.78,"ly":0.32},{"s":"0.11","lx":0.8,"ly":0.33},{"s":"0.11","lx":0.82,"ly":0.32},{"s":"0.11","lx":0.84,"ly":0.33},{"s":"0.11","lx":0.86,"ly":0.34},{"s":"0.11","lx":0.88,"ly":0.35},{"s":"0.11","lx":0.9,"ly":0.37},{"s":"0.11","lx":0.92,"ly":0.39},{"s":"0.11","lx":0.94,"ly":0.41},{"s":"0.11","lx":0.96,"ly":0.45},{"s":"0.11","lx":0.97,"ly":0.49},{"s":"0.11","lx":0.98,"ly":0.47},{"s":"0.11","lx":1.0,"ly":0.5},{"s":"0.11","lx":1.02,"ly":0.52},{"s":"0.11","lx":1.04,"ly":0.54},{"s":"0.11","lx":1.06,"ly":0.57},{"s":"0.11","lx":1.08,"ly":0.6},{"s":"0.11","lx":1.1,"ly":0.63},{"s":"0.11","lx":1.12,"ly":0.66},{"s":"0.11","lx":1.14,"ly":0.7},{"s":"0.11","lx":1.16,"ly":0.74},{"s":"0.11","lx":1.18,"ly":0.8},{"s":"0.11","lx":1.2,"ly":0.84},{"s":"0.11","lx":1.22,"ly":0.88},{"s":"0.11","lx":1.24,"ly":0.95},{"s":"0.11","lx":1.26,"ly":0.98},{"s":"0.11","lx":1.28,"ly":1.02},{"s":"0.11","lx":1.3,"ly":1.08},{"s":"0.11","lx":1.32,"ly":1.0},{"s":"0.11","lx":1.34,"ly":1.12},{"s":"0.11","lx":1.36,"ly":1.2},{"s":"0.11","lx":1.38,"ly":1.15},{"s":"0.11","lx":1.4,"ly":1.24},{"s":"0.11","lx":1.27,"ly":0.93},{"s":"0.11","lx":1.33,"ly":0.88},
{"s":"0.098","lx":0.7,"ly":-0.03},{"s":"0.098","lx":0.72,"ly":-0.025},{"s":"0.098","lx":0.74,"ly":-0.015},{"s":"0.098","lx":0.76,"ly":0.0},{"s":"0.098","lx":0.78,"ly":0.015},{"s":"0.098","lx":0.8,"ly":0.03},{"s":"0.098","lx":0.82,"ly":0.05},{"s":"0.098","lx":0.84,"ly":0.07},{"s":"0.098","lx":0.86,"ly":0.095},{"s":"0.098","lx":0.88,"ly":0.12},{"s":"0.098","lx":0.9,"ly":0.145},{"s":"0.098","lx":0.92,"ly":0.17},{"s":"0.098","lx":0.94,"ly":0.195},{"s":"0.098","lx":0.96,"ly":0.22},{"s":"0.098","lx":0.98,"ly":0.245},{"s":"0.098","lx":1.0,"ly":0.27},{"s":"0.098","lx":1.02,"ly":0.295},{"s":"0.098","lx":1.04,"ly":0.32},{"s":"0.098","lx":1.06,"ly":0.345},{"s":"0.098","lx":1.08,"ly":0.37},{"s":"0.098","lx":1.1,"ly":0.4},{"s":"0.098","lx":1.12,"ly":0.425},{"s":"0.098","lx":1.14,"ly":0.45},{"s":"0.098","lx":1.16,"ly":0.48},{"s":"0.098","lx":1.18,"ly":0.51},{"s":"0.098","lx":1.2,"ly":0.54},{"s":"0.098","lx":1.22,"ly":0.57},{"s":"0.098","lx":1.24,"ly":0.6},{"s":"0.098","lx":1.26,"ly":0.64},{"s":"0.098","lx":1.28,"ly":0.68},{"s":"0.098","lx":1.3,"ly":0.72},{"s":"0.098","lx":1.32,"ly":0.76},{"s":"0.098","lx":1.34,"ly":0.8},{"s":"0.098","lx":1.36,"ly":0.85},{"s":"0.098","lx":1.38,"ly":0.9},{"s":"0.098","lx":1.4,"ly":0.95},
{"s":"0.098","lx":0.71,"ly":-0.02},{"s":"0.098","lx":0.73,"ly":-0.03},{"s":"0.098","lx":0.75,"ly":0.0},{"s":"0.098","lx":0.77,"ly":0.0},{"s":"0.098","lx":0.79,"ly":0.03},{"s":"0.098","lx":0.81,"ly":0.03},{"s":"0.098","lx":0.83,"ly":0.07},{"s":"0.098","lx":0.85,"ly":0.075},{"s":"0.098","lx":0.87,"ly":0.12},{"s":"0.098","lx":0.89,"ly":0.125},{"s":"0.098","lx":0.91,"ly":0.17},{"s":"0.098","lx":0.93,"ly":0.175},{"s":"0.098","lx":0.95,"ly":0.22},{"s":"0.098","lx":0.97,"ly":0.225},{"s":"0.098","lx":0.99,"ly":0.27},{"s":"0.098","lx":1.01,"ly":0.275},{"s":"0.098","lx":1.03,"ly":0.32},{"s":"0.098","lx":1.05,"ly":0.325},{"s":"0.098","lx":1.07,"ly":0.37},{"s":"0.098","lx":1.09,"ly":0.38},{"s":"0.098","lx":1.11,"ly":0.42},{"s":"0.098","lx":1.13,"ly":0.43},{"s":"0.098","lx":1.15,"ly":0.48},{"s":"0.098","lx":1.17,"ly":0.485},{"s":"0.098","lx":1.19,"ly":0.54},{"s":"0.098","lx":1.21,"ly":0.545},{"s":"0.098","lx":1.23,"ly":0.6},{"s":"0.098","lx":1.25,"ly":0.61},{"s":"0.098","lx":1.27,"ly":0.68},{"s":"0.098","lx":1.29,"ly":0.69},{"s":"0.098","lx":1.31,"ly":0.76},{"s":"0.098","lx":1.33,"ly":0.77},{"s":"0.098","lx":1.35,"ly":0.85},{"s":"0.098","lx":1.37,"ly":0.86},{"s":"0.098","lx":1.39,"ly":0.95}
    ]},
     "mark":{"type":"point","filled":true,"size":8,"opacity":1,"clip":true},
     "encoding":{
      "x":{"field":"lx","type":"quantitative","scale":{"domain":[0.6,1.4],"nice":false,"zero":false},"axis":{"values":[0.6,0.8,1.0,1.2,1.4],"format":".1f","title":"log₁₀[T(K)]","labelFontSize":11.5,"titleFontSize":15,"titlePadding":3}},
      "y":{"field":"ly","type":"quantitative","scale":{"domain":[-0.1,1.8],"nice":false,"zero":false},"axis":{"values":[0,0.3,0.6,0.9,1.2,1.5,1.8],"format":".1f","title":"log₁₀[χ⁻¹(a.u.)]","labelFontSize":11.5,"titleFontSize":15,"titlePadding":7}},
      "color":{"field":"s","type":"nominal","scale":{"domain":["x = 0","0.085","0.098","0.11","0.17"],"range":["#000000","#ff2a2a","#2ee62e","#2222cc","#33e0e0"]},"legend":{"title":null,"orient":"none","legendX":14,"legendY":40,"symbolSize":12,"labelFontSize":11.5,"rowPadding":0,"labelOffset":7,"padding":0}},
      "shape":{"field":"s","type":"nominal","scale":{"domain":["x = 0","0.085","0.098","0.11","0.17"],"range":["square","circle","triangle-up","triangle-down","square"]},"legend":{"title":null,"orient":"none","legendX":14,"legendY":40,"symbolSize":12,"labelFontSize":11.5,"rowPadding":0,"labelOffset":7,"padding":0}}
     }},
    {"data":{"values":[{"lx":0.815,"ly":0.89,"lx2":1.25,"ly2":1.8},{"lx":0.93,"ly":0.747,"lx2":1.4,"ly2":1.537},{"lx":1.073,"ly":0.545,"lx2":1.393,"ly2":1.677},{"lx":0.874,"ly":0.274,"lx2":1.4,"ly2":1.163},{"lx":0.76,"ly":-0.04,"lx2":1.4,"ly2":0.788}]},
     "mark":{"type":"rule","color":"#000000","strokeWidth":0.9},
     "encoding":{"x":{"field":"lx","type":"quantitative"},"y":{"field":"ly","type":"quantitative"},"x2":{"field":"lx2"},"y2":{"field":"ly2"}}}
   ]}
 ],"spacing":0,"bounds":"flush"}
],"spacing":117,"bounds":"flush","resolve":{"scale":{"color":"independent","shape":"independent"},"legend":{"color":"independent","shape":"independent"}}}
]
}
